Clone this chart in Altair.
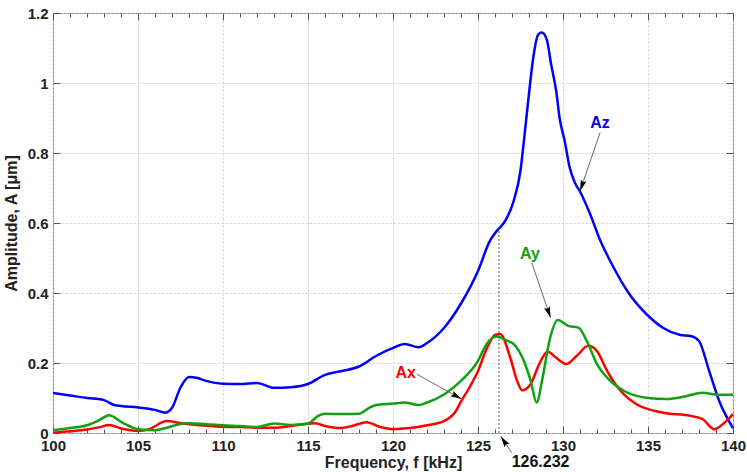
import math

import altair as alt
import pandas as pd

# ---- vibration amplitude spectra (frequency in kHz, amplitude in micrometres) ----
freq_z = [100, 101, 102, 103, 103.6, 104, 105, 106, 106.6, 107, 107.5, 108, 108.5, 109,
          110, 111, 112, 113, 114, 115, 116, 117, 118, 119, 120, 120.7, 121.5, 122, 123,
          124, 125, 125.7, 126.1, 126.6, 127.1, 127.5, 127.7, 128.06, 128.25, 128.55,
          128.75, 129.04, 129.3, 129.6, 129.8, 130.1, 130.4, 130.7, 131.0, 131.6, 132.2,
          132.9, 133.9, 134.9, 135.9, 136.9, 137.5, 138.0, 138.6, 139.2, 140]
amp_z = [0.114, 0.107, 0.100, 0.094, 0.080, 0.077, 0.073, 0.066, 0.058, 0.072, 0.130,
         0.160, 0.157, 0.149, 0.141, 0.140, 0.143, 0.129, 0.131, 0.140, 0.166, 0.177,
         0.190, 0.220, 0.243, 0.254, 0.245, 0.257, 0.300, 0.370, 0.463, 0.549, 0.577,
         0.606, 0.663, 0.750, 0.834, 0.997, 1.072, 1.139, 1.144, 1.125, 1.054, 0.977,
         0.900, 0.834, 0.757, 0.715, 0.690, 0.625, 0.549, 0.480, 0.397, 0.340, 0.300,
         0.280, 0.277, 0.263, 0.177, 0.090, 0.014]

freq_x = [100, 101, 102, 102.7, 103.3, 104, 105, 105.6, 106.7, 107.5, 108, 109, 110, 111,
          112, 113, 114, 115.4, 116, 116.9, 117.6, 118.45, 119.2, 120, 121, 122, 123,
          123.7, 124, 124.5, 125, 125.5, 126, 126.3, 126.9, 127.3, 127.6, 128.1, 128.6,
          129.1, 129.6, 130.2, 130.8, 131.5, 132.0, 132.6, 133.4, 134.3, 135.9, 137.5,
          138.2, 138.9, 139.6, 140]
amp_x = [0.001, 0.005, 0.010, 0.016, 0.023, 0.013, 0.006, 0.010, 0.034, 0.028, 0.025,
         0.021, 0.018, 0.017, 0.015, 0.015, 0.020, 0.028, 0.020, 0.014, 0.020, 0.031,
         0.018, 0.011, 0.014, 0.022, 0.034, 0.063, 0.090, 0.130, 0.177, 0.240, 0.280,
         0.283, 0.215, 0.149, 0.122, 0.140, 0.197, 0.232, 0.215, 0.197, 0.220, 0.249,
         0.234, 0.177, 0.120, 0.083, 0.058, 0.049, 0.040, 0.011, 0.034, 0.054]

freq_y = [100, 101, 102, 102.7, 103.3, 104.1, 105, 106, 106.7, 107.5, 108, 109, 110, 111,
          112, 113, 114, 115, 115.6, 116, 117, 118, 118.6, 119, 120, 120.7, 121.5, 122,
          123, 124, 125, 125.5, 126.1, 126.6, 127.1, 127.7, 128.1, 128.45, 128.8, 129.2,
          129.7, 130.3, 130.9, 131.4, 132, 132.6, 133.6, 134.9, 136.1, 137.3, 138.2,
          139.1, 140]
amp_y = [0.008, 0.014, 0.022, 0.036, 0.051, 0.029, 0.011, 0.008, 0.015, 0.026, 0.028,
         0.025, 0.022, 0.020, 0.017, 0.027, 0.023, 0.027, 0.049, 0.055, 0.054, 0.055,
         0.072, 0.080, 0.084, 0.087, 0.080, 0.087, 0.110, 0.149, 0.206, 0.254, 0.276,
         0.266, 0.254, 0.206, 0.149, 0.087, 0.158, 0.263, 0.323, 0.306, 0.301, 0.263,
         0.197, 0.158, 0.120, 0.101, 0.097, 0.106, 0.115, 0.109, 0.109]

# resonance marker
PEAK_F = 126.232
PEAK_TOP = 0.585

# annotations: label, colour, text position, arrow start, arrow tip
labels = ["Az", "Ay", "Ax", f"{PEAK_F:.3f}"]
label_colors = ["#0000ff", "#12a012", "#ff0000", "#111111"]
label_f = [132.18, 128.06, 120.75, 128.68]
label_a = [0.886, 0.511, 0.171, -0.082]
arrow_f0 = [132.18, 128.16, 121.40, 126.98]
arrow_a0 = [0.858, 0.487, 0.168, -0.056]
arrow_f1 = [131.00, 129.27, 124.04, 126.34]
arrow_a1 = [0.691, 0.329, 0.097, -0.009]

FONT = "Liberation Sans"
W, H = 680, 420
F_DOM = [100, 140]
A_DOM = [0, 1.2]
KX = W / (F_DOM[1] - F_DOM[0])
KY = H / (A_DOM[1] - A_DOM[0])

x_sc = alt.Scale(domain=F_DOM, nice=False, zero=False)
y_sc = alt.Scale(domain=A_DOM, nice=False, zero=False)

major_x = list(range(100, 141, 5))
minor_x = list(range(100, 141, 1))
major_y = [0, 0.2, 0.4, 0.6, 0.8, 1.0, 1.2]

GRID = dict(grid=True, gridColor="#cfcfcf", gridDash=[2, 2], gridWidth=1)
LABEL = dict(labelFont=FONT, labelFontSize=15, labelFontWeight="bold",
             labelColor="#222222", labelFlush=False, labelOverlap=False)
TITLE = dict(titleFont=FONT, titleFontSize=16, titleFontWeight="bold",
             titleColor="#222222")


def tick_axis(values, orient, offset, size):
    """An unlabeled axis used only to draw inward-pointing ticks."""
    return alt.Axis(orient=orient, offset=offset, values=values, labels=False,
                    ticks=True, tickSize=size, tickColor="#555555", tickWidth=1,
                    grid=False, domain=False, title=None)


main_x_axis = alt.Axis(orient="bottom", values=major_x, ticks=False, domain=False,
                       labelPadding=5, title="Frequency, f [kHz]",
                       titleY=34, titleBaseline="alphabetic",
                       **GRID, **LABEL, **TITLE)
main_y_axis = alt.Axis(orient="left", values=major_y, ticks=False, domain=False,
                       labelPadding=5, format="~g", title="Amplitude, A [μm]",
                       titlePadding=8, **GRID, **LABEL, **TITLE)


def series(freq, amp, color, x_axis, y_axis):
    df = pd.DataFrame({"f": freq, "a": amp})
    return alt.Chart(df).mark_line(color=color, strokeWidth=2.5,
                                   interpolate="monotone").encode(
        x=alt.X("f:Q", scale=x_sc, axis=x_axis),
        y=alt.Y("a:Q", scale=y_sc, axis=y_axis),
    )


blue = series(freq_z, amp_z, "#0000ff", main_x_axis, main_y_axis)
# minor ticks along the bottom and left edges, pointing into the plot
red = series(freq_x, amp_x, "#ff0000",
             tick_axis(minor_x, "top", -H, 4),
             tick_axis(major_y, "right", -W, 7))
# minor ticks along the top and right edges, pointing into the plot
green = series(freq_y, amp_y, "#12a012",
               tick_axis(minor_x, "bottom", -H, 4),
               tick_axis(major_y, "left", -W, 7))

# dotted marker at the resonance frequency (also carries the major x ticks)
peak_df = pd.DataFrame({"f": [PEAK_F], "a0": [0.0], "a1": [PEAK_TOP]})
peak = alt.Chart(peak_df).mark_rule(color="#555555", strokeDash=[2, 2],
                                    strokeWidth=1).encode(
    x=alt.X("f:Q", scale=x_sc, axis=tick_axis(major_x, "top", -H, 7)),
    y=alt.Y("a0:Q", scale=y_sc, axis=None),
    y2="a1:Q",
)
peak_top = alt.Chart(peak_df).mark_rule(strokeWidth=0).encode(
    x=alt.X("f:Q", scale=x_sc, axis=tick_axis(major_x, "bottom", -H, 7)),
    y=alt.Y("a0:Q", scale=y_sc, axis=None),
)

# arrows: thin grey shaft + black arrowhead rotated along the shaft
HEAD = "M0,-1L-0.5,0.9L0,0.55L0.5,0.9Z"
HEAD_SIZE = 144
head_half = math.sqrt(HEAD_SIZE) / 2
rows = []
for f0, a0, f1, a1 in zip(arrow_f0, arrow_a0, arrow_f1, arrow_a1):
    dx = (f1 - f0) * KX
    dy = -(a1 - a0) * KY
    n = math.hypot(dx, dy)
    ux, uy = dx / n, dy / n
    ang = math.degrees(math.atan2(ux, -uy)) % 360
    cf = f1 - ux * head_half / KX
    ca = a1 + uy * head_half / KY
    rows.append({"f0": f0, "a0": a0, "f1": f1, "a1": a1, "hf": cf, "ha": ca, "ang": ang})
arrow_df = pd.DataFrame(rows)

shafts = alt.Chart(arrow_df).mark_rule(color="#6a6a6a", strokeWidth=1).encode(
    x=alt.X("f0:Q", scale=x_sc, axis=None),
    y=alt.Y("a0:Q", scale=y_sc, axis=None),
    x2="f1:Q",
    y2="a1:Q",
)
heads = alt.Chart(arrow_df).mark_point(shape=HEAD, size=HEAD_SIZE, filled=True,
                                       color="#000000", opacity=1).encode(
    x=alt.X("hf:Q", scale=x_sc, axis=None),
    y=alt.Y("ha:Q", scale=y_sc, axis=None),
    angle=alt.Angle("ang:Q", scale=None),
)

text_df = pd.DataFrame({"label": labels, "color": label_colors,
                        "f": label_f, "a": label_a})
texts = alt.Chart(text_df).mark_text(font=FONT, fontWeight="bold", fontSize=16,
                                     align="center", baseline="middle").encode(
    x=alt.X("f:Q", scale=x_sc, axis=None),
    y=alt.Y("a:Q", scale=y_sc, axis=None),
    text="label:N",
    color=alt.Color("color:N", scale=None),
)

chart = (
    alt.layer(blue, red, green, peak, peak_top, shafts, heads, texts)
    .resolve_axis(x="independent", y="independent")
    .properties(
        width=W,
        height=H,
        autosize=alt.AutoSizeParams(type="none"),
        padding={"left": 53, "top": 13, "right": 14, "bottom": 39},
        background="white",
    )
    .configure_view(stroke="#808080", strokeWidth=1)
)

chart.save("out.html", embed_options={"renderer": "svg", "actions": False})
